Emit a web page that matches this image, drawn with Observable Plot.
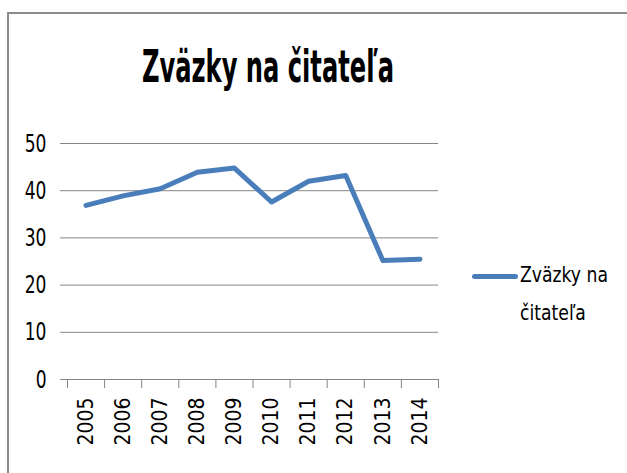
<!DOCTYPE html>
<html>
<head>
<meta charset="utf-8">
<script src="https://cdn.jsdelivr.net/npm/d3@7"></script>
<script src="https://cdn.jsdelivr.net/npm/@observablehq/plot@0.6"></script>
<style>
  html, body { margin: 0; padding: 0; background: #fff; }
  #wrap { position: relative; width: 627px; height: 473px; overflow: hidden; background: #fff; }
  #frame { position: absolute; left: 7px; top: 12px; width: 700px; height: 600px; border: 2px solid #8c8c8c; box-sizing: border-box; }
  #title { position: absolute; left: 0; width: 536px; top: 52px; text-align: center; font-family: "DejaVu Sans Condensed", sans-serif; font-weight: bold; font-size: 34px; line-height: 36px; color: #000; transform: scale(0.79, 1.33); transform-origin: 268px 30px; white-space: nowrap; }
  #legend { position: absolute; left: 520px; top: 256px; font-family: "DejaVu Sans Condensed", sans-serif; font-size: 22px; line-height: 38px; color: #000; transform: scale(0.87, 1); transform-origin: 0 0; white-space: nowrap; }
  #swatch { position: absolute; left: 472px; top: 273.5px; width: 46px; height: 5px; border-radius: 3px; }
  #chart { position: absolute; left: 0; top: 0; }
</style>
</head>
<body>
<div id="wrap">
  <div id="frame"></div>
  <div id="chart"></div>
  <div id="title"></div>
  <div id="swatch"></div>
  <div id="legend"></div>
</div>
<script>
const titleText = "Zväzky na čitateľa";
const seriesName = "Zväzky na čitateľa";
const years = [2005, 2006, 2007, 2008, 2009, 2010, 2011, 2012, 2013, 2014];
const values = [36.9, 38.9, 40.4, 43.9, 44.8, 37.6, 42.0, 43.2, 25.2, 25.5];
const yTicks = [0, 10, 20, 30, 40, 50];
const lineColor = "#4a7ebb";

const data = years.map((y, i) => ({year: y, value: values[i]}));
const boundaries = [years[0] - 0.5, ...years.map(y => y + 0.5)];

document.getElementById("title").textContent = titleText;
document.getElementById("legend").innerHTML = "Zväzky na<br>čitateľa";
document.getElementById("swatch").style.background = lineColor;

const plot = Plot.plot({
  width: 627,
  height: 473,
  marginLeft: 67,
  marginRight: 189,
  marginTop: 143,
  marginBottom: 94,
  x: {type: "linear", domain: [years[0] - 0.5, years[years.length - 1] + 0.5]},
  y: {domain: [0, 50]},
  style: {background: "transparent", overflow: "visible"},
  marks: [
    Plot.gridY(yTicks, {stroke: "#868686", strokeOpacity: 1, strokeWidth: 1, x1: years[0] - 0.5, x2: years[years.length - 1] + 0.5}),
    Plot.axisY(yTicks, {tickSize: 7, tickPadding: 14, stroke: "#868686", fontSize: 25, fontFamily: "'DejaVu Sans Condensed', sans-serif", fill: "#000", label: null}),
    Plot.axisX(boundaries, {tickSize: 9, tickFormat: () => "", stroke: "#868686", label: null}),
    Plot.axisX(years, {tickSize: 0, tickPadding: 18, tickRotate: -90, tickFormat: d => String(d), fontSize: 21, fontFamily: "'DejaVu Sans Condensed', sans-serif", fill: "#000", label: null}),
    Plot.line(data, {x: "year", y: "value", stroke: lineColor, strokeWidth: 5, strokeLinejoin: "round", strokeLinecap: "round"})
  ]
});
// narrow the y tick labels horizontally (Calibri-like proportions)
d3.select(plot).selectAll("g[aria-label='y-axis tick label'] text").each(function() {
  const t = this.getAttribute("transform") || "";
  this.setAttribute("transform", t + " scale(0.76,1)");
});
document.getElementById("chart").appendChild(plot);
</script>
</body>
</html>
